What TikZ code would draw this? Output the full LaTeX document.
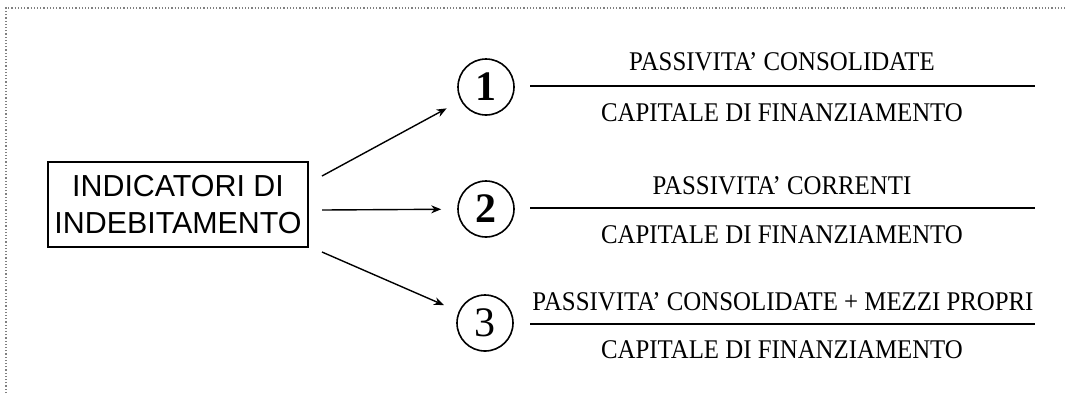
\documentclass[tikz,border=0pt]{standalone}
\usepackage{fontspec}
\setmainfont{Liberation Serif}
\newfontfamily\boxfont{Liberation Sans}
\newfontfamily\termfont[FakeStretch=0.92]{Liberation Serif}
\usetikzlibrary{arrows.meta}

\begin{document}
\begin{tikzpicture}[
    x=0.5pt, y=-0.5pt,
    title/.style={draw=black, line width=0.8pt, inner sep=0pt,
        minimum width=130pt, minimum height=42.5pt,
        align=center, font=\boxfont\fontsize{15.2}{18.5}\selectfont},
    number/.style={circle, draw=black, line width=0.8pt, minimum size=28pt,
        inner sep=0pt, font=\fontsize{21}{21}\selectfont},
    term/.style={font=\termfont\fontsize{13.5}{15}\selectfont, inner sep=0pt},
    bar/.style={line width=1.3pt},
    arrow/.style={line width=0.7pt, -{Stealth[length=5pt,width=4pt]}, shorten >=8pt}
]
    \useasboundingbox (0,0) rectangle (1065,393);
    % dotted frame, only top and left visible
    \draw[gray, densely dotted, line width=0.6pt] (6,393) -- (6,8) -- (1065,8);

    \node[title] (ind) at (178,204.5) {INDICATORI DI\\INDEBITAMENTO};

    \node[number] (c1) at (486,87) {\textbf{1}};
    \node[number] (c2) at (486,209) {\textbf{2}};
    \node[number] (c3) at (485,323) {3};

    \coordinate (s1) at (322,176);
    \coordinate (s2) at (322,210);
    \coordinate (s3) at (322,252);

    \draw[arrow] (s1) -- (c1);
    \draw[arrow] (s2) -- (c2);
    \draw[arrow] (s3) -- (c3);

    % fractions
    \coordinate (b1l) at (530,86);
    \coordinate (b1r) at (1035,86);
    \coordinate (b2l) at (530,208);
    \coordinate (b2r) at (1035,208);
    \coordinate (b3l) at (530,324);
    \coordinate (b3r) at (1035,324);
    \draw[bar] (b1l) -- (b1r);
    \draw[bar] (b2l) -- (b2r);
    \draw[bar] (b3l) -- (b3r);

    \node[term] (n1) at (782,62) {PASSIVITA’ CONSOLIDATE};
    \node[term] (d1) at (782,113) {CAPITALE DI FINANZIAMENTO};
    \node[term] (n2) at (782,186) {PASSIVITA’ CORRENTI};
    \node[term] (d2) at (782,235) {CAPITALE DI FINANZIAMENTO};
    \node[term] (n3) at (783,302) {PASSIVITA’ CONSOLIDATE + MEZZI PROPRI};
    \node[term] (d3) at (782,350) {CAPITALE DI FINANZIAMENTO};
\end{tikzpicture}
\end{document}
